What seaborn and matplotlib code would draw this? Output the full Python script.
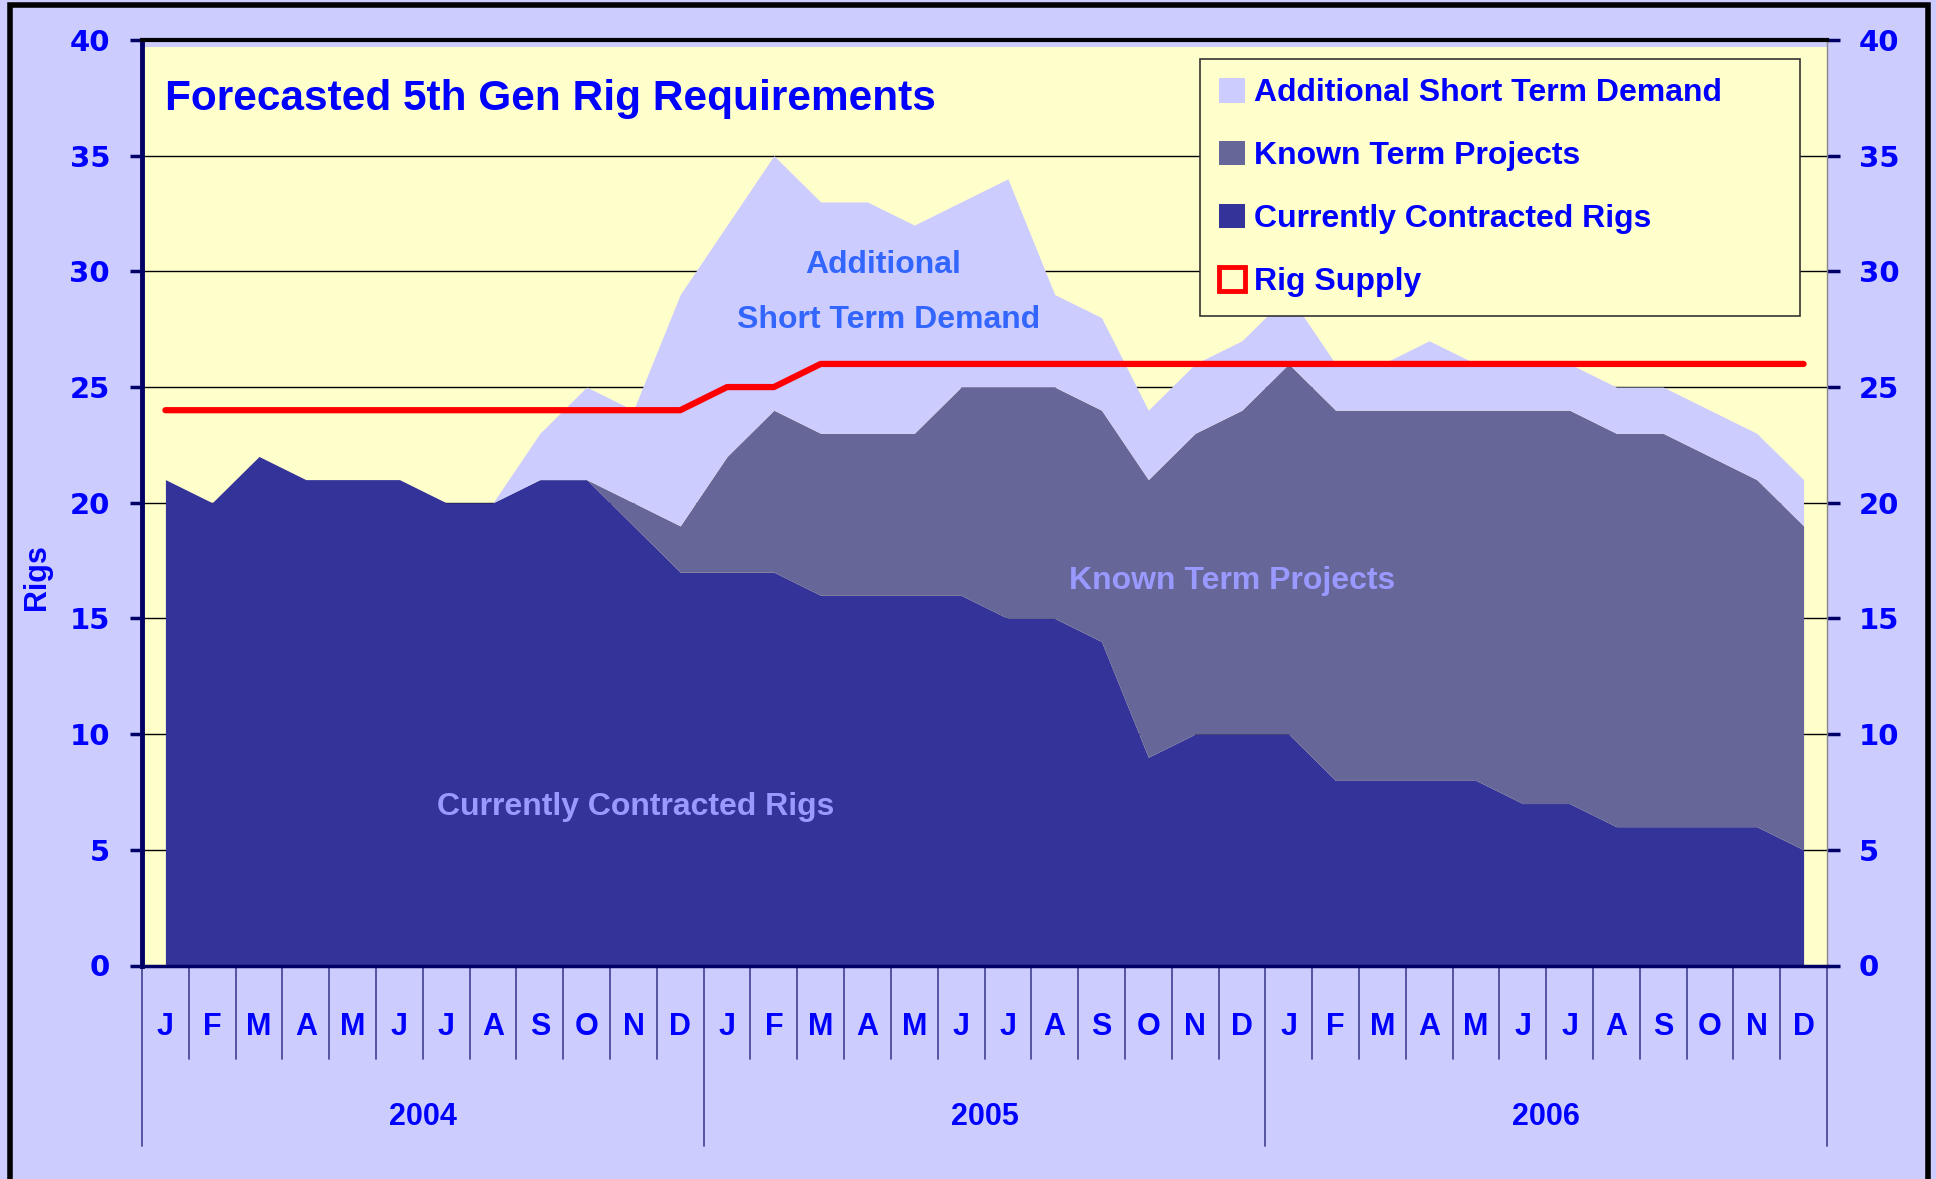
import matplotlib
matplotlib.use("Agg")
import matplotlib.pyplot as plt
import matplotlib.transforms as mtransforms
from matplotlib.patches import Patch, Rectangle
import numpy as np
import pandas as pd
import seaborn as sns

# ---------------- data ----------------
months = ["J", "F", "M", "A", "M", "J", "J", "A", "S", "O", "N", "D"] * 3
years = ["2004", "2005", "2006"]

contracted = [21, 20, 22, 21, 21, 21, 20, 20, 21, 21, 19, 17,
              17, 17, 16, 16, 16, 16, 15, 15, 14, 9, 10, 10,
              10, 8, 8, 8, 8, 7, 7, 6, 6, 6, 6, 5]
known_term = [0, 0, 0, 0, 0, 0, 0, 0, 0, 0, 1, 2,
              5, 7, 7, 7, 7, 9, 10, 10, 10, 12, 13, 14,
              16, 16, 16, 16, 16, 17, 17, 17, 17, 16, 15, 14]
additional = [0, 0, 0, 0, 0, 0, 0, 0, 2, 4, 4, 10,
              10, 11, 10, 10, 9, 8, 9, 4, 4, 3, 3, 3,
              3, 2, 2, 3, 2, 2, 2, 2, 2, 2, 2, 2]
rig_supply = [24, 24, 24, 24, 24, 24, 24, 24, 24, 24, 24, 24,
              25, 25, 26, 26, 26, 26, 26, 26, 26, 26, 26, 26,
              26, 26, 26, 26, 26, 26, 26, 26, 26, 26, 26, 26]

labels = ["Additional Short Term Demand", "Known Term Projects",
          "Currently Contracted Rigs", "Rig Supply"]

# ---------------- style ----------------
C_CONTR = "#333399"
C_KNOWN = "#666699"
C_ADD = "#CCCCFF"
BG = "#CCCCFF"
PLOT_BG = "#FFFFCC"
BLUE = "#0000FF"

sns.set_theme(style="white")
plt.rcParams["font.family"] = ["Liberation Sans", "DejaVu Sans"]

fig = plt.figure(figsize=(19.36, 11.79), dpi=100, facecolor=BG)
ax = fig.add_axes([142 / 1936, 1 - 965.5 / 1179, (1827 - 142) / 1936, 925.5 / 1179])
ax.set_facecolor(PLOT_BG)

n = len(contracted)
x = np.arange(n)
c = np.array(contracted, float)
k = c + np.array(known_term, float)
t = k + np.array(additional, float)

ax.fill_between(x, 0, c, color=C_CONTR, lw=0, zorder=2)
ax.fill_between(x, c, k, color=C_KNOWN, lw=0, zorder=2)
ax.fill_between(x, k, t, color=C_ADD, lw=0, zorder=2)

df = pd.DataFrame({"x": x, "supply": rig_supply})
sns.lineplot(data=df, x="x", y="supply", ax=ax, color="#FF0000", lw=4.5,
             zorder=4, legend=False)

ax.set_xlim(-0.5, n - 0.5)
ax.set_ylim(0, 40)
ax.set_yticks(range(0, 41, 5))
ax.set_xticks([])
ax.set_xlabel("")
ax.set_ylabel("")
for yv in range(5, 40, 5):
    ax.axhline(yv, color="black", lw=1.0, zorder=1)
# thin lavender strip just below the top frame
ax.axhspan(39.68, 40, color=BG, lw=0, zorder=1)

ax.tick_params(axis="y", which="both", left=True, right=True,
               labelleft=True, labelright=True, length=9, width=2.5,
               direction="out", color="#000066", pad=14, labelcolor=BLUE)
for t2 in ax.yaxis.get_major_ticks():
    for lab in (t2.label1, t2.label2):
        lab.set_fontfamily("DejaVu Sans")
        lab.set_fontweight("heavy")
        lab.set_fontsize(21)
        lab.set_color(BLUE)
    t2.tick2line.set_color("#555555")

for side in ["left", "right", "top", "bottom"]:
    ax.spines[side].set_visible(True)
ax.spines["left"].set_color("#000066")
ax.spines["left"].set_linewidth(3.5)
ax.spines["bottom"].set_color("#000066")
ax.spines["bottom"].set_linewidth(2.5)
ax.spines["top"].set_color("black")
ax.spines["top"].set_linewidth(3)
ax.spines["right"].set_color("#888888")
ax.spines["right"].set_linewidth(1)

# category axis: month and year labels with separators
trans = mtransforms.blended_transform_factory(ax.transData, ax.transAxes)
for i in range(n + 1):
    long = (i % 12 == 0)
    ax.plot([i - 0.5, i - 0.5], [0, -0.195 if long else -0.101], transform=trans,
            color="#4B4B9A", lw=1.3, clip_on=False)
for i, m in enumerate(months):
    ax.text(i, -0.066, m, transform=trans, ha="center", va="center",
            fontsize=22, fontweight="bold", color=BLUE)
for j, yr in enumerate(years):
    ax.text(j * 12 + 5.5, -0.164, yr, transform=trans, ha="center", va="center",
            fontsize=22, fontweight="bold", color=BLUE)

# title and annotations
ax.text(0.0139, 0.9365, "Forecasted 5th Gen Rig Requirements", transform=ax.transAxes,
        ha="left", va="center", fontsize=30.5, fontweight="bold", color=BLUE, zorder=6)
ax.text(15.33, 30.27, "Additional", ha="center", va="center", fontsize=23,
        fontweight="bold", color="#3366FF", zorder=5)
ax.text(15.45, 27.9, "Short Term Demand", ha="center", va="center", fontsize=23,
        fontweight="bold", color="#3366FF", zorder=5)
ax.text(22.79, 16.6, "Known Term Projects", ha="center", va="center", fontsize=23,
        fontweight="bold", color="#9999FF", zorder=5)
ax.text(10.05, 6.83, "Currently Contracted Rigs", ha="center", va="center", fontsize=23,
        fontweight="bold", color="#9999FF", zorder=5)

fig.text(37 / 1936, 1 - 577 / 1179, "Rigs", rotation=90, ha="center", va="center",
         fontsize=22, fontweight="bold", color=BLUE)

# legend
handles = [Patch(facecolor=C_ADD, edgecolor="none"),
           Patch(facecolor=C_KNOWN, edgecolor="none"),
           Patch(facecolor=C_CONTR, edgecolor="none"),
           Patch(facecolor="none", edgecolor="#FF0000", linewidth=3.5)]
leg = ax.legend(handles, labels, loc="upper left",
                bbox_to_anchor=(0.628, 0.706, 0.356, 0.2735), mode="expand",
                prop=dict(family="Liberation Sans", weight="bold", size=23),
                labelcolor=BLUE, frameon=True, fancybox=False, framealpha=1,
                facecolor=PLOT_BG, edgecolor="#333333", borderpad=0.6,
                labelspacing=1.02, handlelength=0.8, handleheight=0.8,
                handletextpad=0.3, borderaxespad=0)
leg.get_frame().set_linewidth(1.2)
leg.set_zorder(7)

# outer border
fig.patches.append(Rectangle((10 / 1936, -0.01), 1 - 18 / 1936, 1.01 - 5 / 1179,
                             transform=fig.transFigure, fill=False,
                             edgecolor="black", lw=4, zorder=10))

fig.savefig("out.png", dpi=100, facecolor=BG)
